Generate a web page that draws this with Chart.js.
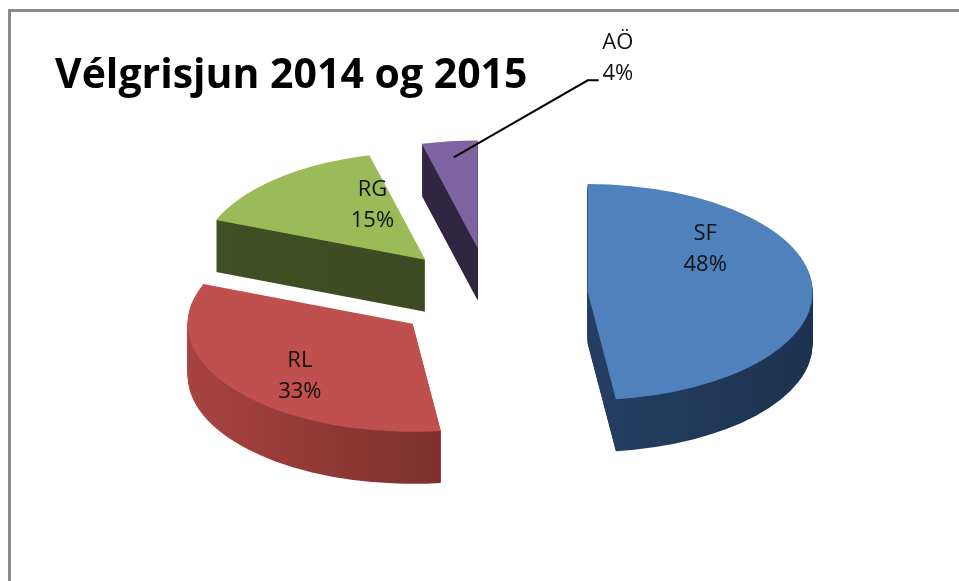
<!DOCTYPE html>
<html lang="is">
<head>
    <meta charset="UTF-8">
    <title>Vélgrisjun 2014 og 2015</title>
    <script src="https://cdn.jsdelivr.net/npm/chart.js@4/dist/chart.umd.min.js"></script>
    <style>
        body { margin: 0; background: #fff; }
        #wrap { position: relative; width: 959px; height: 581px; overflow: hidden; }
        #frame { position: absolute; left: 8px; top: 9px; right: -5px; bottom: -5px; border-top: 3px solid #8a8a8a; border-left: 3px solid #8a8a8a; }
        canvas { position: absolute; left: 0; top: 0; }
    </style>
</head>
<body>
<div id="wrap">
    <div id="frame"></div>
    <canvas id="chart" width="959" height="581"></canvas>
</div>
<script>
    // data
    const categories = ['SF', 'RL', 'RG', 'AÖ'];
    const shares = [48, 33, 15, 4];

    // looks
    const topColors = ['#4f81bd', '#c0504d', '#9bbb59', '#8064a2'];
    const sideFrom = ['#2c4a74', '#a8433f', '#414f24', '#342a47'];
    const sideTo = ['#1d3250', '#5a2120', '#3b4720', '#2a2139'];
    const labelNudge = [[-6, -40], [-15, 16], [29, -10], null];

    // fake 3d projection of the flat pie
    const CX = 490, CY = 295;      // screen centre
    const RX = 225, RY = 108;      // ellipse radii
    const DEPTH = 52;
    const EXPLODE = 0.435;         // in radii

    function slicePath(ctx, a) {
        ctx.beginPath();
        ctx.moveTo(a.x, a.y);
        ctx.arc(a.x, a.y, a.outerRadius, a.startAngle, a.endAngle);
        ctx.closePath();
    }

    function geom(a) {
        const r0 = a.outerRadius;
        const mid = (a.startAngle + a.endAngle) / 2;
        return {
            r0, mid,
            sx: RX / r0, sy: RY / r0,
            ex: Math.cos(mid) * EXPLODE * r0,
            ey: Math.sin(mid) * EXPLODE * r0
        };
    }

    // point on the top face, f = fraction of the radius along the mid angle
    function facePoint(g, f) {
        return [
            CX + g.sx * (g.ex + Math.cos(g.mid) * f * g.r0),
            CY + g.sy * (g.ey + Math.sin(g.mid) * f * g.r0)
        ];
    }

    const pie3d = {
        id: 'pie3d',
        beforeDatasetsDraw(chart) {
            const ctx = chart.ctx;
            const arcs = chart.getDatasetMeta(0).data;
            const order = arcs.map((a, i) => i).sort((i, j) => geom(arcs[i]).ey - geom(arcs[j]).ey);
            order.forEach(i => {
                const a = arcs[i];
                const g = geom(a);
                ctx.save();
                ctx.translate(CX, CY);
                ctx.scale(g.sx, g.sy);
                ctx.translate(-a.x + g.ex, -a.y + g.ey);
                const grad = ctx.createLinearGradient(a.x - g.r0, 0, a.x + g.r0, 0);
                grad.addColorStop(0, sideFrom[i]);
                grad.addColorStop(1, sideTo[i]);
                ctx.fillStyle = grad;
                for (let d = DEPTH; d > 0; d--) {
                    ctx.save();
                    ctx.translate(0, d / g.sy);
                    slicePath(ctx, a);
                    ctx.fill();
                    ctx.restore();
                }
                ctx.fillStyle = topColors[i];
                slicePath(ctx, a);
                ctx.fill();
                ctx.restore();
            });
            return false;
        },
        afterDraw(chart) {
            const ctx = chart.ctx;
            const arcs = chart.getDatasetMeta(0).data;
            ctx.save();
            ctx.font = '22px "Open Sans", sans-serif';
            ctx.fillStyle = '#111';
            ctx.textAlign = 'center';
            ctx.textBaseline = 'middle';
            arcs.forEach((a, i) => {
                const g = geom(a);
                const txt = [categories[i], shares[i] + '%'];
                if (labelNudge[i]) {
                    const [x, y] = facePoint(g, 0.55);
                    const lx = x + labelNudge[i][0], ly = y + labelNudge[i][1];
                    ctx.fillText(txt[0], lx, ly - 15);
                    ctx.fillText(txt[1], lx, ly + 16);
                } else {
                    // small slice: label outside with leader line
                    const [x0, y0] = facePoint(g, 0.85);
                    const bx = x0 + 134, by = y0 - 77;
                    ctx.strokeStyle = '#000';
                    ctx.lineWidth = 2;
                    ctx.beginPath();
                    ctx.moveTo(x0, y0);
                    ctx.lineTo(bx, by);
                    ctx.lineTo(bx + 11, by);
                    ctx.stroke();
                    ctx.fillText(txt[0], bx + 30, by - 38);
                    ctx.fillText(txt[1], bx + 30, by - 7);
                }
            });
            ctx.restore();
        }
    };

    new Chart(document.getElementById('chart'), {
        type: 'pie',
        data: {
            labels: categories,
            datasets: [{
                data: shares,
                backgroundColor: topColors,
                borderWidth: 0
            }]
        },
        options: {
            responsive: false,
            animation: false,
            events: [],
            layout: { padding: { left: 55, right: 20, bottom: 20 } },
            plugins: {
                legend: { display: false },
                tooltip: { enabled: false },
                title: {
                    display: true,
                    text: 'Vélgrisjun 2014 og 2015',
                    align: 'start',
                    color: '#000',
                    font: { family: '"Open Sans", sans-serif', size: 41, weight: 'bold' },
                    padding: { top: 52, bottom: 10 }
                }
            }
        },
        plugins: [pie3d]
    });
</script>
</body>
</html>
